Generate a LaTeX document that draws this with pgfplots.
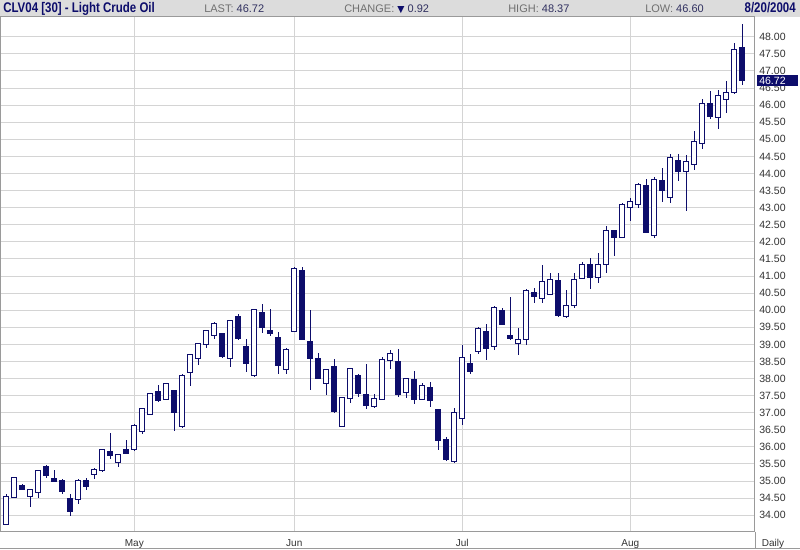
\documentclass[border=0pt]{standalone}
\usepackage{pgfplots}
\pgfplotsset{compat=1.18}
\usepackage{pgfplotstable}
\usepgfplotslibrary{statistics}
\usepackage{graphicx}
\usepackage{fontspec}
\setmainfont{Liberation Sans}
\newfontfamily\symfont{DejaVu Sans}
% narrow bold look of the header, by squeezing Liberation Sans Bold
\newcommand\narrowbold[1]{\scalebox{0.82}[1]{\bfseries #1}}

\definecolor{navy}{HTML}{0D0D6B}
\definecolor{gridgray}{HTML}{D4D4D4}
\definecolor{framegray}{HTML}{9A9A9A}
\definecolor{headbg}{HTML}{DCDCDC}
\definecolor{headtxt}{HTML}{707070}
\definecolor{headnum}{HTML}{303060}

% 1px of the original = 0.75pt
\newlength\px \setlength\px{0.75pt}

% daily OHLC, CLV04, 8 Apr - 20 Aug 2004
\pgfplotstableread{
i  o     h     l     c
0  33.74 34.61 33.72 34.54
1  34.53 35.13 34.50 35.11
2  34.88 34.90 34.74 34.76
3  34.54 34.78 34.25 34.76
4  34.67 35.32 34.50 35.30
5  35.43 35.47 35.10 35.16
6  35.08 35.33 34.97 34.99
7  35.03 35.05 34.63 34.69
8  34.48 34.61 33.99 34.11
9  34.45 35.05 34.32 35.03
10 35.03 35.08 34.73 34.84
11 35.18 35.37 35.05 35.35
12 35.30 35.95 35.28 35.93
13 35.88 36.40 35.64 35.76
14 35.55 35.80 35.40 35.78
15 35.91 36.20 35.79 35.81
16 35.91 36.66 35.88 36.64
17 36.45 37.15 36.38 37.13
18 36.95 37.59 36.92 37.57
19 37.62 37.81 37.33 37.35
20 37.39 37.88 37.37 37.86
21 37.64 37.66 36.48 37.01
22 36.59 38.12 36.57 38.10
23 38.18 38.71 37.79 38.69
24 38.59 39.05 38.40 39.03
25 39.00 39.43 38.89 39.41
26 39.27 39.66 39.15 39.62
27 39.32 39.34 38.62 38.64
28 38.59 39.72 38.35 39.70
29 39.81 39.89 39.15 39.17
30 38.95 39.15 38.20 38.45
31 38.08 40.05 38.04 40.03
32 39.94 40.18 39.34 39.49
33 39.42 40.03 39.25 39.32
34 39.21 39.37 38.13 38.38
35 38.27 38.88 38.13 38.86
36 39.39 41.25 39.37 41.23
37 41.15 41.27 39.12 39.15
38 39.08 40.01 37.67 38.59
39 38.59 38.74 37.99 38.01
40 37.86 38.29 37.52 38.27
41 38.34 38.56 37.01 37.03
42 36.61 37.47 36.59 37.45
43 37.42 38.32 37.28 38.30
44 38.10 38.12 37.45 37.57
45 37.52 38.43 37.10 37.22
46 37.18 37.54 37.13 37.42
47 37.39 38.64 37.37 38.56
48 38.54 38.84 38.27 38.74
49 38.49 38.86 37.47 37.52
50 37.59 38.03 37.42 38.01
51 37.96 38.22 37.25 37.39
52 37.39 37.88 37.37 37.81
53 37.74 37.91 37.16 37.35
54 37.08 37.10 35.91 36.18
55 36.22 36.30 35.60 35.62
56 35.57 37.13 35.55 37.01
57 36.84 38.98 36.64 38.62
58 38.43 38.72 38.13 38.20
59 38.79 39.52 38.72 39.47
60 39.39 39.60 38.54 38.89
61 38.95 40.11 38.84 40.09
62 39.98 40.06 39.57 39.59
63 39.27 40.40 39.13 39.18
64 39.03 39.47 38.69 39.13
65 39.13 40.62 38.98 40.59
66 40.52 40.64 40.20 40.39
67 40.35 41.33 40.20 40.84
68 40.47 41.08 40.45 40.90
69 40.88 41.08 39.81 39.84
70 39.81 40.59 39.76 40.15
71 40.13 41.10 40.06 40.90
72 40.94 41.40 40.92 41.33
73 41.33 41.54 40.62 40.96
74 40.96 41.68 40.81 41.33
75 41.35 42.46 41.10 42.33
76 42.33 42.35 41.60 42.14
77 42.14 43.13 42.12 43.08
78 43.01 43.27 42.62 43.17
79 43.08 43.71 43.00 43.68
80 43.66 43.83 42.25 42.28
81 42.18 43.91 42.12 43.83
82 43.81 44.15 43.16 43.50
83 43.29 44.56 43.13 44.46
84 44.38 44.56 43.78 44.05
85 44.07 44.54 42.90 44.35
86 44.25 45.24 44.10 44.93
87 44.88 46.17 44.71 46.05
88 46.05 46.41 45.59 45.66
89 45.64 46.43 45.29 46.29
90 46.17 46.71 45.78 46.37
91 46.38 47.81 46.33 47.64
92 47.69 48.37 46.60 46.72
}\candles

\pgfplotsset{candle/.style={navy, draw=navy, line width=1\px, solid,
    boxplot/draw direction=y,
    boxplot/box extend=0.625, boxplot/whisker extend=0}}

\begin{document}
\begin{tikzpicture}[font=\fontsize{7.9}{9}\selectfont]
\useasboundingbox (0,0) rectangle (800\px,550\px);
\fill[white] (0,0) rectangle (800\px,550\px);
\fill[headbg] (0,533\px) rectangle (800\px,550\px);

\begin{axis}[
    at={(0,18\px)}, anchor=south west,
    scale only axis, width=755\px, height=515\px,
    xmin=-0.79, xmax=93.59, ymin=33.51, ymax=48.58,
    clip=false,
    axis line style={framegray, line width=1\px},
    ytick={34,34.5,...,48},
    yticklabel pos=right,
    /pgf/number format/assume math mode=true,
    yticklabel={\pgfmathprintnumber[fixed,fixed zerofill,precision=2]{\tick}},
    yticklabel style={anchor=west, inner sep=0pt, xshift=4\px, text=black!80},
    xtick={16,36,57,78},
    xticklabels={May,Jun,Jul,Aug},
    xticklabel style={anchor=base, inner sep=0pt, yshift=-14.5\px,
        text=black!80, font=\fontsize{7.5}{9}\selectfont},
    major tick length=0pt,
    xmajorgrids, ymajorgrids,
    grid style={gridgray, line width=1\px},
]
\pgfplotsinvokeforeach{0,...,92}{
    \pgfplotstablegetelem{#1}{o}\of\candles \let\cO\pgfplotsretval
    \pgfplotstablegetelem{#1}{h}\of\candles \let\cH\pgfplotsretval
    \pgfplotstablegetelem{#1}{l}\of\candles \let\cL\pgfplotsretval
    \pgfplotstablegetelem{#1}{c}\of\candles \let\cC\pgfplotsretval
    \ifdim\cC pt<\cO pt
        \def\bodycol{navy}\let\lo\cC\let\hi\cO
    \else
        \def\bodycol{white}\let\lo\cO\let\hi\cC
    \fi
    \edef\temp{\noexpand\addplot[candle,
        boxplot/every box/.style={fill=\bodycol},
        boxplot prepared={draw position=#1,
            lower whisker=\cL, lower quartile=\lo, median=\lo,
            upper quartile=\hi, upper whisker=\cH}] coordinates {};}
    \temp
}
% last price flag on the right scale
\node[anchor=west, xshift=2\px, fill=navy, text=white, inner xsep=2\px,
    inner ysep=0pt, minimum height=11\px, text width=37\px, align=left]
    at ({rel axis cs:1,0} |- {axis cs:0,46.72}) {46.72};
\node[anchor=base, inner sep=0pt, text=black!80, font=\fontsize{7.5}{9}\selectfont]
    at ([xshift=18\px, yshift=-14.5\px]rel axis cs:1,0) {Daily};
\end{axis}

\draw[framegray, line width=1\px] (755\px,18\px) -- (755\px,1.5\px);
\draw[framegray, line width=1\px] (0,1.5\px) -- (800\px,1.5\px);

% header bar
\begin{scope}[every node/.style={inner sep=0pt}]
\node[anchor=base west, text=navy, font=\fontsize{10.5}{12}\selectfont]
    at (3\px,537.5\px) {\narrowbold{CLV04 [30] - Light Crude Oil}};
\node[anchor=base west, font=\fontsize{8.25}{10}\selectfont]
    at (204\px,537.5\px) {\textcolor{headtxt}{LAST:} \textcolor{headnum}{46.72}};
\node[anchor=base west, font=\fontsize{8.25}{10}\selectfont]
    at (344\px,537.5\px) {\textcolor{headtxt}{CHANGE:} {\symfont\fontsize{7}{8}\selectfont\textcolor{navy}{▼}} \textcolor{headnum}{0.92}};
\node[anchor=base west, font=\fontsize{8.25}{10}\selectfont]
    at (508\px,537.5\px) {\textcolor{headtxt}{HIGH:} \textcolor{headnum}{48.37}};
\node[anchor=base west, font=\fontsize{8.25}{10}\selectfont]
    at (645\px,537.5\px) {\textcolor{headtxt}{LOW:} \textcolor{headnum}{46.60}};
\node[anchor=base east, text=navy, font=\fontsize{10.5}{12}\selectfont]
    at (796\px,537.5\px) {\narrowbold{8/20/2004}};
\end{scope}
\end{tikzpicture}
\end{document}
